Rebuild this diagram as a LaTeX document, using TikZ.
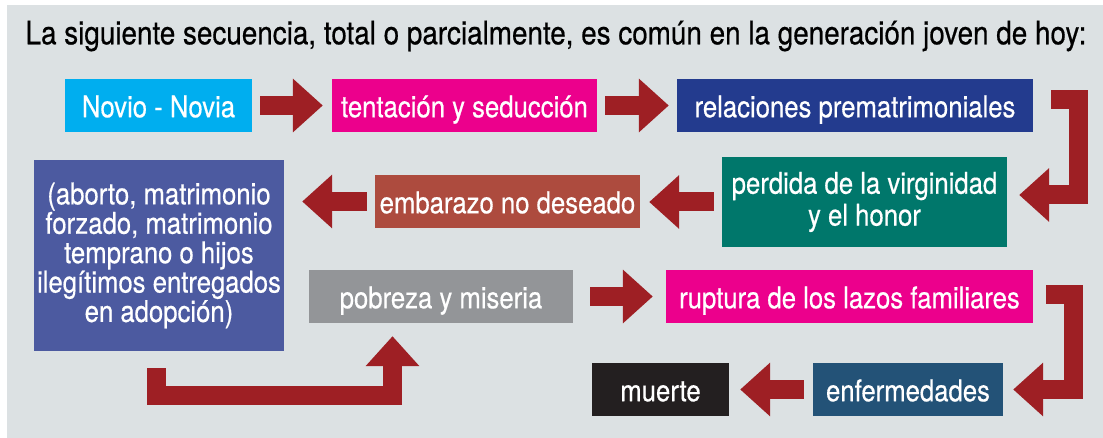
\documentclass[tikz,border=0pt]{standalone}
\usepackage{fontspec}
\setmainfont{TeX Gyre Heros}[FakeStretch=0.86, FakeBold=0.5]
\usepackage{tikz}
\usetikzlibrary{arrows.meta, positioning}
\definecolor{bggray}{HTML}{DCE1E3}
\definecolor{arrowred}{HTML}{9E1F24}
\definecolor{novcyan}{HTML}{00AEEF}
\definecolor{tentmag}{HTML}{EC008C}
\definecolor{relblue}{HTML}{233B8E}
\definecolor{virgteal}{HTML}{00776B}
\definecolor{embbrown}{HTML}{AD4B3E}
\definecolor{abopurple}{HTML}{4C5AA0}
\definecolor{pobgray}{HTML}{939598}
\definecolor{enfsteel}{HTML}{235277}
\definecolor{muerblack}{HTML}{231F20}

\tikzset{
  box/.style={inner sep=0pt, text=white, align=center,
              font=\fontsize{30}{29.5}\selectfont},
  onebox/.style={box, minimum height=53bp, text height=23.5bp, text depth=0bp},
  blk/.style={draw=arrowred, line width=19bp,
              -{Triangle[length=30bp, width=52bp]}}
}

\begin{document}
\begin{tikzpicture}[x=1bp, y=-1bp]
  \useasboundingbox (0,0) rectangle (1103,438);
  % Background panel
  \fill[bggray] (7,5) rectangle (1103,438);
  % Title
  \node[font=\fontsize{32.5}{34}\selectfont, text=black] (title) at (556,36)
    {La siguiente secuencia, total o parcialmente, es común en la generación joven de hoy:};
  % First row
  \node[onebox, fill=novcyan, minimum width=187bp] (novio) at (158.5,105.5) {Novio - Novia};
  \node[onebox, fill=tentmag, minimum width=265bp] (tent) at (464.5,105.5) {tentación y seducción};
  \node[onebox, fill=relblue, minimum width=356bp] (rel) at (855,105.5) {relaciones prematrimoniales};
  % Second row
  \node[box, fill=virgteal, minimum width=285bp, minimum height=90bp, font=\fontsize{30}{32}\selectfont] (perdida) at (864.5,202) {perdida de la virginidad\\y el honor};
  \node[onebox, fill=embbrown, minimum width=265bp] (embarazo) at (507.5,201.5) {embarazo no deseado};
  \node[box, fill=abopurple, minimum width=250bp, minimum height=191bp] (aborto) at (159,255.5)
    {(aborto, matrimonio\\forzado, matrimonio\\temprano o hijos\\ilegítimos entregados\\en adopción)};
  % Third row
  \node[onebox, fill=pobgray, minimum width=264bp] (pobreza) at (441,296.5) {pobreza y miseria};
  \node[onebox, fill=tentmag, minimum width=367bp] (ruptura) at (849.5,296.5) {ruptura de los lazos familiares};
  % Last row
  \node[onebox, fill=enfsteel, minimum width=190bp] (enf) at (908,389.5) {enfermedades};
  \node[onebox, fill=muerblack, minimum width=137bp] (muerte) at (660.5,389.5) {muerte};
  % Straight arrows
  \draw[blk, shorten <=8bp, shorten >=9bp] (novio) -- (tent);
  \draw[blk, shorten <=8bp, shorten >=8bp] (tent) -- (rel);
  \draw[blk, shorten <=8bp, shorten >=9bp] (perdida.west) -- (perdida.west -| embarazo.east);
  \draw[blk, shorten <=8bp, shorten >=18bp] (embarazo.west) -- (embarazo.west -| aborto.east);
  \draw[blk, shorten <=17bp, shorten >=13bp] (pobreza) -- (ruptura);
  \draw[blk, shorten <=9bp, shorten >=11bp] (enf) -- (muerte);
  % Bent arrows
  \draw[blk] ([xshift=18bp, yshift=6bp]rel.east) -- ++(27.5,0)
    |- ([xshift=12bp, yshift=7bp]perdida.east);
  \draw[blk] ([xshift=13bp, yshift=2bp]ruptura.east) -- ++(27.5,0)
    |- ([xshift=10bp]enf.east);
  \draw[blk] ([xshift=-2.5bp, yshift=-17bp]aborto.south) -- ++(0,27)
    -| ([xshift=-48.5bp, yshift=-13bp]pobreza.south);
\end{tikzpicture}
\end{document}
